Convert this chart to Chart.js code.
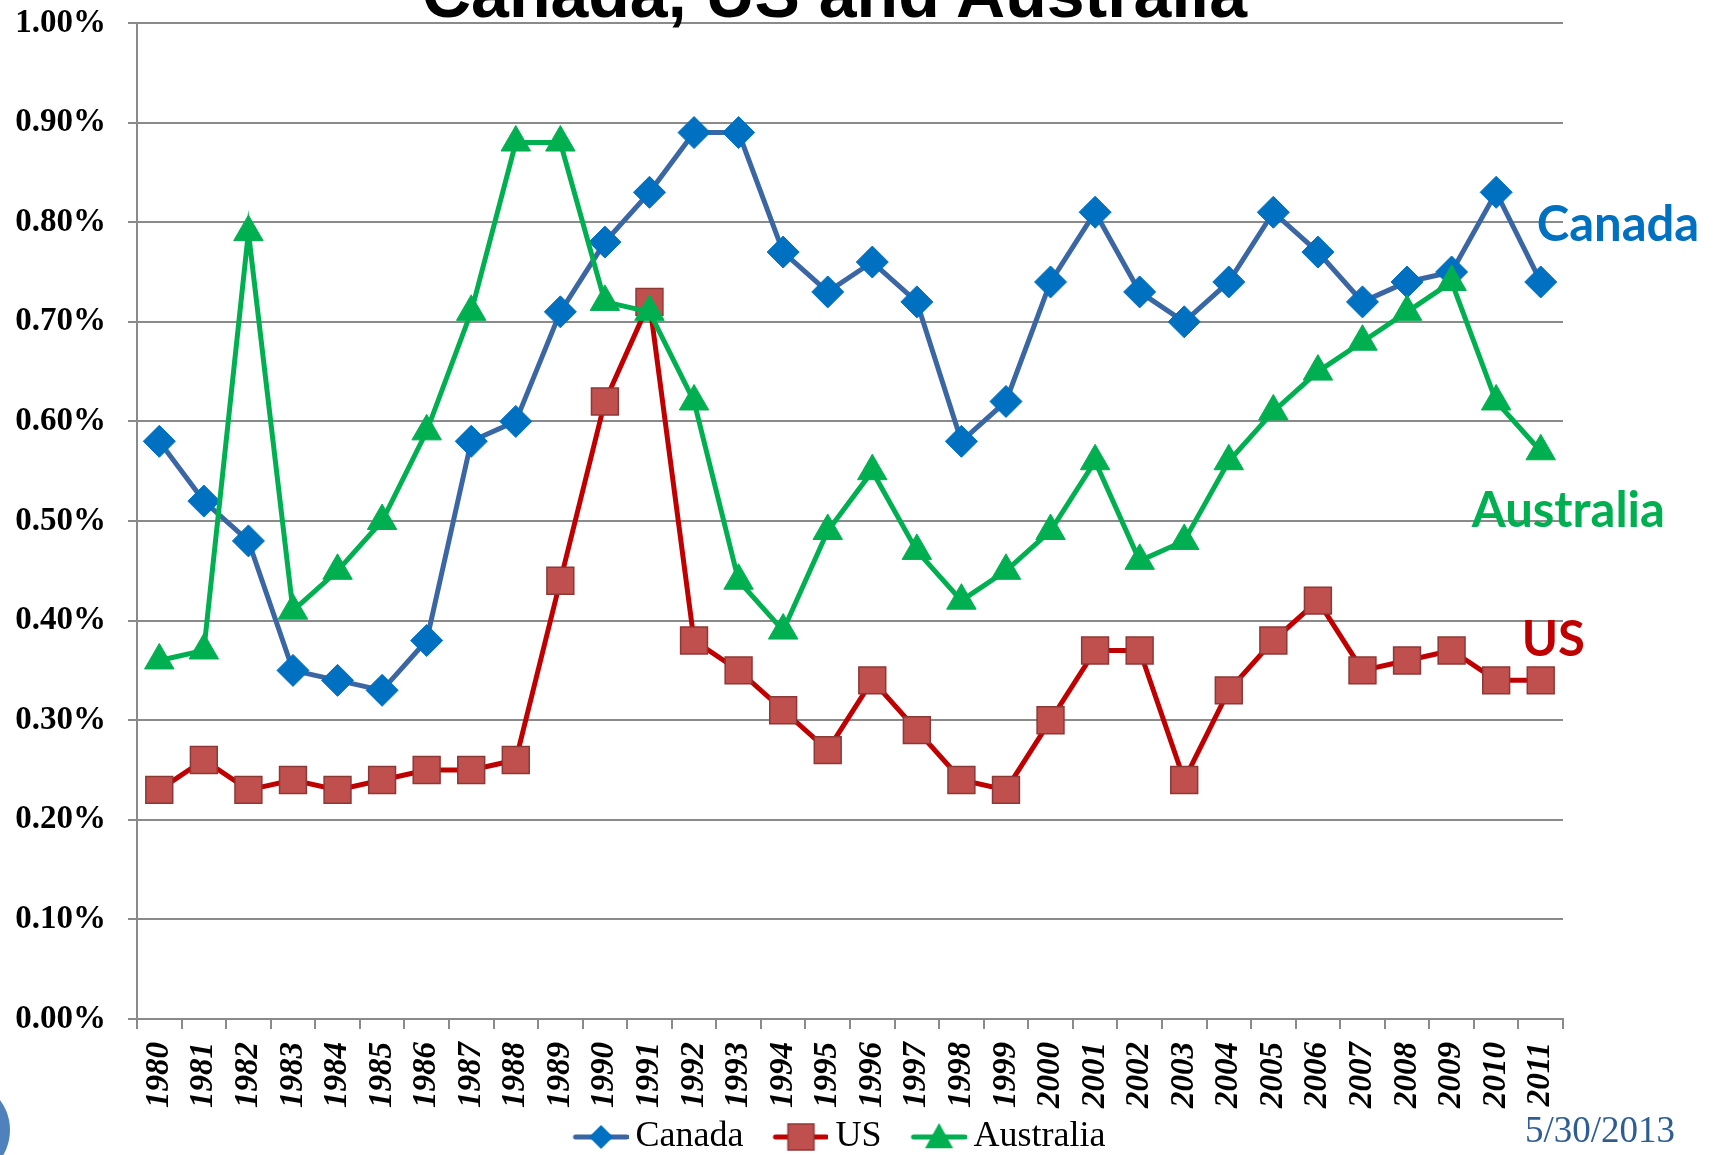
<!DOCTYPE html>
<html>
<head>
<meta charset="utf-8">
<title>Canada, US and Australia</title>
<script src="https://cdn.jsdelivr.net/npm/chart.js@4.4.1/dist/chart.umd.min.js"></script>
<style>
  html, body { margin: 0; padding: 0; background: #fff; }
  body { width: 1716px; height: 1155px; position: relative; overflow: hidden; }
  #wrap { position: absolute; left: 0; top: 0; width: 1716px; height: 1165px; }
  #title { position: absolute; left: 422px; top: -41px; z-index: 2; white-space: nowrap;
           font: bold 68px/68px 'Liberation Sans', Arial, sans-serif; color: #000; }
  #date { position: absolute; left: 1525px; top: 1111px; z-index: 2; white-space: nowrap;
          font: 37px/37px 'Liberation Serif', serif; color: #2E5D94; }
  #dot { position: absolute; left: -90px; top: 1080px; width: 100px; height: 100px;
         border-radius: 50%; background: #4F81BD; z-index: 2; }
</style>
</head>
<body>
<div id="title">Canada, US and Australia</div>
<div id="wrap"><canvas id="chart"></canvas></div>
<div id="date">5/30/2013</div>
<div id="dot"></div>

<script>
const years = ['1980', '1981', '1982', '1983', '1984', '1985', '1986', '1987', '1988', '1989',
  '1990', '1991', '1992', '1993', '1994', '1995', '1996', '1997', '1998', '1999',
  '2000', '2001', '2002', '2003', '2004', '2005', '2006', '2007', '2008', '2009',
  '2010', '2011'];

// values in percent
const canada = [0.58, 0.52, 0.48, 0.35, 0.34, 0.33, 0.38, 0.58, 0.60, 0.71,
  0.78, 0.83, 0.89, 0.89, 0.77, 0.73, 0.76, 0.72, 0.58, 0.62,
  0.74, 0.81, 0.73, 0.70, 0.74, 0.81, 0.77, 0.72, 0.74, 0.75,
  0.83, 0.74];

const us = [0.23, 0.26, 0.23, 0.24, 0.23, 0.24, 0.25, 0.25, 0.26, 0.44,
  0.62, 0.72, 0.38, 0.35, 0.31, 0.27, 0.34, 0.29, 0.24, 0.23,
  0.30, 0.37, 0.37, 0.24, 0.33, 0.38, 0.42, 0.35, 0.36, 0.37,
  0.34, 0.34];

const australia = [0.36, 0.37, 0.79, 0.41, 0.45, 0.50, 0.59, 0.71, 0.88, 0.88,
  0.72, 0.71, 0.62, 0.44, 0.39, 0.49, 0.55, 0.47, 0.42, 0.45,
  0.49, 0.56, 0.46, 0.48, 0.56, 0.61, 0.65, 0.68, 0.71, 0.74,
  0.62, 0.57];

const yTickLabels = ['0.00%', '0.10%', '0.20%', '0.30%', '0.40%', '0.50%',
  '0.60%', '0.70%', '0.80%', '0.90%', '1.00%'];

const GRID = '#8A8A8A';
const SERIF = "'Liberation Serif', 'Times New Roman', serif";

// names written at the end of each line
const seriesTags = [
  { text: 'Canada', color: '#0070C0', value: 0.781, dx: -4 },
  { text: 'Australia', color: '#00B050', value: 0.4935, dx: -69 },
  { text: 'US', color: '#C00000', value: 0.364, dx: -19 }
];

function diamond(g, x, y, r) {
  g.beginPath();
  g.moveTo(x - r, y);
  g.lineTo(x, y - r);
  g.lineTo(x + r, y);
  g.lineTo(x, y + r);
  g.closePath();
  g.fill();
}

function triangle(g, x, y, r) {
  g.beginPath();
  g.moveTo(x, y - r);
  g.lineTo(x + r, y + r * 0.8);
  g.lineTo(x - r, y + r * 0.8);
  g.closePath();
  g.fill();
}

// line + marker picture for the legend; the empty left part gives the gap
// between legend items, the line ends 7px before the label text
function swatch(lineColor, drawMarker) {
  const c = document.createElement('canvas');
  c.width = 87;
  c.height = 34;
  const g = c.getContext('2d');
  g.strokeStyle = lineColor;
  g.lineWidth = 5;
  g.lineCap = 'round';
  g.beginPath();
  g.moveTo(34, 17);
  g.lineTo(85, 17);
  g.stroke();
  drawMarker(g, 59.5, 17);
  return c;
}

const swatches = [
  swatch('#3A67A3', (g, x, y) => { g.fillStyle = '#0070C0'; diamond(g, x, y, 12); }),
  swatch('#C00000', (g, x, y) => {
    g.fillStyle = '#C0504D';
    g.fillRect(x - 13, y - 13, 26, 26);
    g.strokeStyle = '#8C3836';
    g.lineWidth = 1.5;
    g.strokeRect(x - 13, y - 13, 26, 26);
  }),
  swatch('#00B050', (g, x, y) => { g.fillStyle = '#00B050'; triangle(g, x, y, 14); })
];

const seriesTagsPlugin = {
  id: 'seriesTags',
  afterLayout(chart) {
    // legend sits a little left of the plot centre in the original
    if (chart.legend) {
      chart.legend.left -= 21;
      chart.legend.right -= 21;
    }
  },
  afterDatasetsDraw(chart) {
    const { ctx, scales: { x, y } } = chart;
    const xEnd = x.getPixelForValue(years.length - 1);
    ctx.save();
    ctx.font = "bold 49px Lato, 'Open Sans', sans-serif";
    ctx.textAlign = 'left';
    ctx.textBaseline = 'alphabetic';
    seriesTags.forEach(tag => {
      ctx.fillStyle = tag.color;
      ctx.fillText(tag.text, xEnd + tag.dx, y.getPixelForValue(tag.value));
    });
    ctx.restore();
  }
};

function buildChart() {
  const ctx = document.getElementById('chart');

  new Chart(ctx, {
    type: 'line',
    data: {
      labels: years,
      datasets: [
        {
          label: 'Canada',
          data: canada,
          borderColor: '#3A67A3',
          borderWidth: 5,
          tension: 0,
          pointStyle: 'rectRot',
          pointRadius: 16,
          pointHoverRadius: 16,
          pointBackgroundColor: '#0070C0',
          pointBorderColor: '#0070C0',
          pointBorderWidth: 1,
          order: 2
        },
        {
          label: 'US',
          data: us,
          borderColor: '#C00000',
          borderWidth: 5,
          tension: 0,
          pointStyle: 'rect',
          pointRadius: 19,
          pointHoverRadius: 19,
          pointBackgroundColor: '#C0504D',
          pointBorderColor: '#8C3836',
          pointBorderWidth: 1.5,
          order: 1
        },
        {
          label: 'Australia',
          data: australia,
          borderColor: '#00B050',
          borderWidth: 5,
          tension: 0,
          pointStyle: 'triangle',
          pointRadius: 17,
          pointHoverRadius: 17,
          pointBackgroundColor: '#00B050',
          pointBorderColor: '#00B050',
          pointBorderWidth: 1,
          order: 0
        }
      ]
    },
    options: {
      responsive: true,
      maintainAspectRatio: false,
      animation: false,
      layout: { padding: { top: 23, right: 153, left: 0, bottom: 0 } },
      plugins: {
        tooltip: { enabled: false },
        legend: {
          position: 'bottom',
          fullSize: false,
          labels: {
            usePointStyle: true,
            pointStyleWidth: 65,
            padding: 9,
            color: '#000',
            font: { family: SERIF, size: 36 },
            generateLabels: chart => chart.data.datasets.map((ds, i) => ({
              text: ds.label,
              pointStyle: swatches[i],
              datasetIndex: i,
              hidden: false,
              lineWidth: 0,
              fillStyle: ds.borderColor,
              strokeStyle: ds.borderColor,
              fontColor: '#000'
            }))
          }
        }
      },
      scales: {
        x: {
          type: 'category',
          offset: true,
          grid: {
            offset: true,
            drawOnChartArea: false,
            drawTicks: true,
            tickLength: 10,
            color: GRID,
            lineWidth: 2
          },
          border: { display: true, color: GRID, width: 2 },
          ticks: {
            autoSkip: false,
            maxRotation: 90,
            minRotation: 90,
            padding: 13,
            color: '#000',
            font: { family: SERIF, size: 33, style: 'italic', weight: 'bold' }
          },
          afterFit: scale => {
            scale.height = 91;
            scale.paddingLeft = 0;
            scale.paddingRight = 0;
          }
        },
        y: {
          type: 'linear',
          min: 0,
          max: 1,
          ticks: {
            stepSize: 0.1,
            padding: 22,
            color: '#000',
            font: { family: SERIF, size: 33, weight: 'bold' },
            callback: (value, index) => yTickLabels[index]
          },
          grid: { color: GRID, lineWidth: 2, tickLength: 9 },
          border: { display: true, color: GRID, width: 2 },
          afterFit: scale => {
            scale.width = 137;
            scale.paddingTop = 0;
            scale.paddingBottom = 0;
          }
        }
      }
    },
    plugins: [seriesTagsPlugin]
  });
}

Promise.all([
  document.fonts.load("bold 49px Lato"),
  document.fonts.load("36px 'Liberation Serif'"),
  document.fonts.load("bold 33px 'Liberation Serif'"),
  document.fonts.load("italic bold 33px 'Liberation Serif'")
]).catch(() => {}).then(buildChart);
</script>
</body>
</html>
